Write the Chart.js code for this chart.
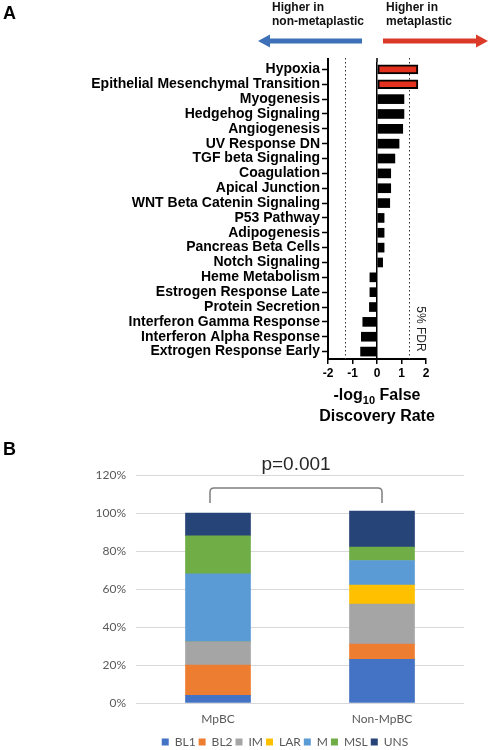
<!DOCTYPE html>
<html>
<head>
<meta charset="utf-8">
<script src="https://cdn.jsdelivr.net/npm/chart.js@4"></script>
<style>
  body { margin: 0; width: 491px; height: 750px; overflow: hidden; background: #fff; }
  canvas { position: absolute; left: 0; }
  #chartA { top: 0; }
  #chartB { top: 440px; }
</style>
</head>
<body>
<canvas id="chartA" width="491" height="440"></canvas>
<canvas id="chartB" width="491" height="310"></canvas>
<script>
// Panel A - hallmark pathways, -log10 FDR (negative = higher in non-metaplastic)
const pathways = [
    'Hypoxia', 'Epithelial Mesenchymal Transition', 'Myogenesis', 'Hedgehog Signaling',
    'Angiogenesis', 'UV Response DN', 'TGF beta Signaling', 'Coagulation', 'Apical Junction',
    'WNT Beta Catenin Signaling', 'P53 Pathway', 'Adipogenesis', 'Pancreas Beta Cells',
    'Notch Signaling', 'Heme Metabolism', 'Estrogen Response Late', 'Protein Secretion',
    'Interferon Gamma Response', 'Interferon Alpha Response', 'Extrogen Response Early'
];
const logFdr = [1.67, 1.67, 1.10, 1.10, 1.05, 0.90, 0.73, 0.56, 0.56, 0.52,
                0.29, 0.29, 0.29, 0.23, -0.29, -0.29, -0.31, -0.58, -0.64, -0.67];
const significant = ['Hypoxia', 'Epithelial Mesenchymal Transition'];
const fdrCut = 1.3; // -log10(0.05)
const xTicksA = [-2, -1, 0, 1, 2];

// Panel B - TNBC subtype proportions
const groups = ['MpBC', 'Non-MpBC'];
const subtypes = ['BL1', 'BL2', 'IM', 'LAR', 'M', 'MSL', 'UNS'];
const pctBL1 = [4, 23];
const pctBL2 = [16, 8];
const pctIM = [12, 21];
const pctLAR = [0, 10];
const pctM = [36, 13];
const pctMSL = [20, 7];
const pctUNS = [12, 19];
const pValue = 'p=0.001';

const subtypeData = [pctBL1, pctBL2, pctIM, pctLAR, pctM, pctMSL, pctUNS];
const subtypeColors = ['#4472C4', '#ED7D31', '#A5A5A5', '#FFC000', '#5B9BD5', '#70AD47', '#264478'];

const SANS = '"Liberation Sans", Arial, sans-serif';

function drawArrow(ctx, xFrom, xTo, y, color) {
    const dir = Math.sign(xTo - xFrom);
    const head = 12;
    ctx.save();
    ctx.strokeStyle = color;
    ctx.fillStyle = color;
    ctx.lineWidth = 5;
    ctx.beginPath();
    ctx.moveTo(xFrom, y);
    ctx.lineTo(xTo - dir * head, y);
    ctx.stroke();
    ctx.beginPath();
    ctx.moveTo(xTo, y);
    ctx.lineTo(xTo - dir * head, y - 6.5);
    ctx.lineTo(xTo - dir * head, y + 6.5);
    ctx.closePath();
    ctx.fill();
    ctx.restore();
}

const panelAExtras = {
    id: 'panelAExtras',
    beforeDatasetsDraw(chart) {
        const ctx = chart.ctx;
        const xs = chart.scales.x;
        const area = chart.chartArea;
        ctx.save();
        ctx.strokeStyle = '#333';
        ctx.lineWidth = 1;
        ctx.setLineDash([1.5, 2.5]);
        [-fdrCut, fdrCut].forEach(v => {
            const x = Math.round(xs.getPixelForValue(v)) + 0.5;
            ctx.beginPath();
            ctx.moveTo(x, area.top - 4);
            ctx.lineTo(x, area.bottom);
            ctx.stroke();
        });
        ctx.restore();
    },
    afterDraw(chart) {
        const ctx = chart.ctx;
        const xs = chart.scales.x;
        const area = chart.chartArea;
        ctx.save();
        // axis lines run a little above the first bar, as in the figure
        ctx.strokeStyle = '#000';
        ctx.lineWidth = 2;
        ctx.beginPath();
        ctx.moveTo(area.left, area.top);
        ctx.lineTo(area.left, area.top - 4);
        ctx.stroke();
        ctx.lineWidth = 1.5;
        ctx.beginPath();
        ctx.moveTo(xs.getPixelForValue(0), area.top);
        ctx.lineTo(xs.getPixelForValue(0), area.top - 4);
        ctx.stroke();

        ctx.fillStyle = '#000';
        ctx.textBaseline = 'middle';

        // panel letter
        ctx.font = 'bold 18px ' + SANS;
        ctx.textAlign = 'left';
        ctx.fillText('A', 3, 14);

        // direction headers
        ctx.font = 'bold 12px ' + SANS;
        ctx.fillStyle = '#111';
        ctx.fillText('Higher in', 272, 8);
        ctx.fillText('non-metaplastic', 272, 22);
        ctx.fillText('Higher in', 386, 8);
        ctx.fillText('metaplastic', 386, 22);
        drawArrow(ctx, 362, 258, 41, '#3D70B6');
        drawArrow(ctx, 383, 488, 41, '#DB3A28');

        // 5% FDR label
        ctx.save();
        ctx.translate(xs.getPixelForValue(fdrCut) + 11, 329);
        ctx.rotate(Math.PI / 2);
        ctx.font = '12px ' + SANS;
        ctx.fillStyle = '#222';
        ctx.textAlign = 'center';
        ctx.fillText('5% FDR', 0, 0);
        ctx.restore();

        // x title with subscript
        const cx = xs.getPixelForValue(0);
        ctx.fillStyle = '#000';
        const big = 'bold 16px ' + SANS;
        const small = 'bold 11px ' + SANS;
        ctx.font = big;
        const w1 = ctx.measureText('-log').width;
        const w3 = ctx.measureText(' False').width;
        ctx.font = small;
        const w2 = ctx.measureText('10').width;
        let x = cx - (w1 + w2 + w3) / 2;
        ctx.textAlign = 'left';
        ctx.font = big;
        ctx.fillText('-log', x, 396);
        ctx.font = small;
        ctx.fillText('10', x + w1, 401);
        ctx.font = big;
        ctx.fillText(' False', x + w1 + w2, 396);
        ctx.textAlign = 'center';
        ctx.fillText('Discovery Rate', cx, 417);
        ctx.restore();
    }
};

new Chart(document.getElementById('chartA'), {
    type: 'bar',
    data: {
        labels: pathways,
        datasets: [{
            data: logFdr,
            backgroundColor: c => significant.includes(pathways[c.dataIndex]) ? '#E2311F' : '#000',
            borderColor: '#000',
            borderWidth: c => significant.includes(pathways[c.dataIndex]) ? 2 : 0,
            borderSkipped: false,
            barThickness: 9
        }]
    },
    options: {
        indexAxis: 'y',
        responsive: false,
        animation: false,
        devicePixelRatio: 1,
        layout: { padding: { top: 62, right: 65, left: 0, bottom: 0 } },
        plugins: { legend: { display: false }, tooltip: { enabled: false } },
        scales: {
            x: {
                min: -2,
                max: 2,
                afterBuildTicks: s => { s.ticks = xTicksA.map(v => ({ value: v })); },
                ticks: { color: '#000', font: { family: SANS, weight: 'bold', size: 12 }, padding: 2 },
                grid: {
                    color: c => (c.tick && c.tick.value === 0) ? '#000' : 'rgba(0,0,0,0)',
                    lineWidth: 1.5,
                    tickColor: '#000',
                    tickLength: 5,
                    tickWidth: 1.5
                },
                border: { color: '#000', width: 2 },
                afterFit: s => { s.height = 81; }
            },
            y: {
                ticks: { color: '#000', font: { family: SANS, weight: 'bold', size: 14 }, padding: 2, autoSkip: false },
                grid: { offset: false, drawOnChartArea: false, tickLength: 6, tickColor: '#000', tickWidth: 1.5 },
                border: { color: '#000', width: 2 },
                afterFit: s => { s.width = 328; }
            }
        }
    },
    plugins: [panelAExtras]
});

const panelBExtras = {
    id: 'panelBExtras',
    afterLayout(chart) {
        // Excel centres the legend a bit left of the plot centre
        chart.legend.left -= 15;
        chart.legend.right -= 15;
    },
    afterDraw(chart) {
        const ctx = chart.ctx;
        const xs = chart.scales.x;
        ctx.save();
        ctx.fillStyle = '#000';
        ctx.textBaseline = 'middle';
        ctx.font = 'bold 18px ' + SANS;
        ctx.textAlign = 'left';
        ctx.fillText('B', 3, 10);

        // significance bracket
        const xl = xs.getPixelForValue(0) - 8;
        const xr = xs.getPixelForValue(1);
        ctx.strokeStyle = '#7F7F7F';
        ctx.lineWidth = 1.5;
        ctx.beginPath();
        ctx.moveTo(xl, 63);
        ctx.lineTo(xl, 52);
        ctx.quadraticCurveTo(xl, 48, xl + 4, 48);
        ctx.lineTo(xr - 4, 48);
        ctx.quadraticCurveTo(xr, 48, xr, 52);
        ctx.lineTo(xr, 63);
        ctx.stroke();

        ctx.font = '19px ' + SANS;
        ctx.fillStyle = '#262626';
        ctx.textAlign = 'center';
        ctx.fillText(pValue, (xl + xr) / 2, 25);
        ctx.restore();
    }
};

new Chart(document.getElementById('chartB'), {
    type: 'bar',
    data: {
        labels: groups,
        datasets: subtypes.map((s, i) => ({
            label: s,
            data: subtypeData[i],
            backgroundColor: subtypeColors[i],
            barThickness: 65
        }))
    },
    options: {
        responsive: false,
        animation: false,
        devicePixelRatio: 1,
        layout: { padding: { top: 35, right: 27, left: 0, bottom: -8 } },
        plugins: {
            tooltip: { enabled: false },
            legend: {
                position: 'bottom',
                fullSize: false,
                labels: {
                    boxWidth: 7,
                    boxHeight: 7,
                    padding: 3,
                    color: '#595959',
                    font: { family: 'Lato', size: 12 }
                }
            }
        },
        scales: {
            x: {
                stacked: true,
                grid: { display: false },
                border: { display: false },
                ticks: { color: '#595959', font: { family: 'Lato', size: 12 }, padding: 1 },
                afterFit: s => { s.height = 30; }
            },
            y: {
                stacked: true,
                min: 0,
                max: 120,
                ticks: { stepSize: 20, callback: v => v + '%', color: '#595959', font: { family: 'Lato', size: 12 }, padding: 10 },
                grid: { color: '#D9D9D9', drawTicks: false },
                border: { display: false },
                afterFit: s => { s.width = 136; }
            }
        }
    },
    plugins: [panelBExtras]
});
</script>
</body>
</html>
